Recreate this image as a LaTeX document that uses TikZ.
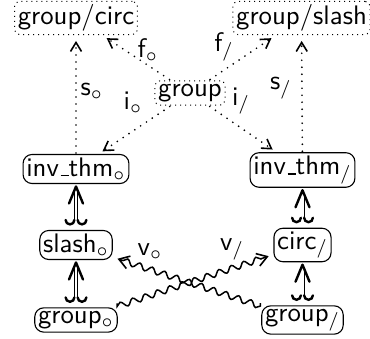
\documentclass[tikz,border=0pt]{standalone}
\usetikzlibrary{arrows.meta,decorations.pathmorphing,calc}
\newcommand{\sbc}{\textsubscript{$\circ$}}
\newcommand{\sbs}{\textsubscript{/}}
\newcommand{\usc}{\leavevmode\kern.06em\vbox{\hrule width.3em height .045em}}
\begin{document}
\begin{tikzpicture}[x=1pt,y=1pt,
  txt/.style={font=\sffamily\fontsize{10}{12}\selectfont, scale=2.68},
  grp/.style={txt, draw, line width=1pt, dash pattern=on 1pt off 4pt, rounded corners=5pt, inner sep=1.2pt},
  box/.style={txt, draw, line width=1.1pt, rounded corners=9pt, inner sep=1.2pt},
  lbl/.style={txt, inner sep=0pt},
  dotline/.style={line width=1.9pt, line cap=round, dash pattern=on 0pt off 7pt},
  tiponly/.style={line width=1.6pt, -{Straight Barb[length=9pt,width=11pt,line width=1.6pt]}},
  dbl/.style={double, double distance=2.4pt, line width=0.8pt},
  hookhead/.pic={\draw[line width=2.4pt, line cap=round, line join=round]
     (-7pt,-17pt) .. controls (-3pt,-8pt) .. (0,0) .. controls (3pt,-8pt) .. (7pt,-17pt);},
  hooktail/.pic={\draw[line width=2.4pt, line cap=round]
     (-1.6pt,0) arc[start angle=0, end angle=-180, radius=4.4pt]
     (1.6pt,0) arc[start angle=180, end angle=360, radius=4.4pt];},
  wave/.style={line width=1.5pt, decorate,
    decoration={snake, amplitude=3pt, segment length=13pt, post length=9pt},
    -{Straight Barb[length=10pt,width=13pt,line width=1.6pt]}}
]
\useasboundingbox (0,0) rectangle (370,339);
\node[grp] (gc) at (76,321) {group/circ};
\node[grp] (gs) at (301.5,321) {group/slash};
\node[grp] (g) at (190,246) {group};
\node[box] (ic) at (76,170) {inv\usc thm\sbc};
\node[box] (is) at (302.5,169) {inv\usc thm\sbs};
\node[box] (sc) at (76,94) {slash\sbc};
\node[box] (cs) at (302.5,94) {circ\sbs};
\node[box] (go) at (76,19) {group\sbc};
\node[box] (gsl) at (302.5,19) {group\sbs};

% dotted arrows: line, then solid head
\draw[dotline, shorten >=8pt] (ic) -- (gc) coordinate[pos=0] (a1) coordinate[pos=1] (b1);
\draw[tiponly] ($(b1)!7pt!(a1)$) -- ($(b1)!5pt!(a1)$);
\draw[dotline, shorten >=8pt] (is) -- (gs) coordinate[pos=0] (a2) coordinate[pos=1] (b2);
\draw[tiponly] ($(b2)!7pt!(a2)$) -- ($(b2)!5pt!(a2)$);
\draw[dotline, shorten >=7pt] (g) -- (gc) coordinate[pos=0] (a3) coordinate[pos=1] (b3);
\draw[tiponly] ($(b3)!6pt!(a3)$) -- ($(b3)!4pt!(a3)$);
\draw[dotline, shorten >=7pt] (g) -- (gs) coordinate[pos=0] (a4) coordinate[pos=1] (b4);
\draw[tiponly] ($(b4)!6pt!(a4)$) -- ($(b4)!4pt!(a4)$);
\draw[dotline, shorten >=6pt] (g) -- (ic) coordinate[pos=0] (a5) coordinate[pos=1] (b5);
\draw[tiponly] ($(b5)!5pt!(a5)$) -- ($(b5)!3pt!(a5)$);
\draw[dotline, shorten >=6pt] (g) -- (is) coordinate[pos=0] (a6) coordinate[pos=1] (b6);
\draw[tiponly] ($(b6)!5pt!(a6)$) -- ($(b6)!3pt!(a6)$);

% hooked double arrows
\draw[dbl] ([yshift=9pt]sc.north) -- ([yshift=-5pt]ic.south);
\pic at ([yshift=-1.5pt]ic.south) {hookhead};
\pic at ([yshift=9pt]sc.north) {hooktail};
\draw[dbl] ([yshift=9pt]go.north) -- ([yshift=-5pt]sc.south);
\pic at ([yshift=-1.5pt]sc.south) {hookhead};
\pic at ([yshift=9pt]go.north) {hooktail};
\draw[dbl] ([yshift=9pt]cs.north) -- ([yshift=-5pt]is.south);
\pic at ([yshift=-1.5pt]is.south) {hookhead};
\pic at ([yshift=9pt]cs.north) {hooktail};
\draw[dbl] ([yshift=9pt]gsl.north) -- ([yshift=-5pt]cs.south);
\pic at ([yshift=-1.5pt]cs.south) {hookhead};
\pic at ([yshift=9pt]gsl.north) {hooktail};

% squiggly arrows
\draw[wave, shorten <=3pt, shorten >=4pt] (go) -- (cs);
\draw[wave, shorten <=3pt, shorten >=4pt] (gsl) -- (sc);

\node[lbl] (ls1) at (92,248) {s\sbc};
\node[lbl] (ls2) at (281,251) {s\sbs};
\node[lbl] (lf1) at (148,289) {f\sbc};
\node[lbl] (lf2) at (224,292) {f\sbs};
\node[lbl] (li1) at (133,236) {i\sbc};
\node[lbl] (li2) at (241,238) {i\sbs};
\node[lbl] (lv1) at (150,87) {v\sbc};
\node[lbl] (lv2) at (232,90) {v\sbs};
\end{tikzpicture}
\end{document}
